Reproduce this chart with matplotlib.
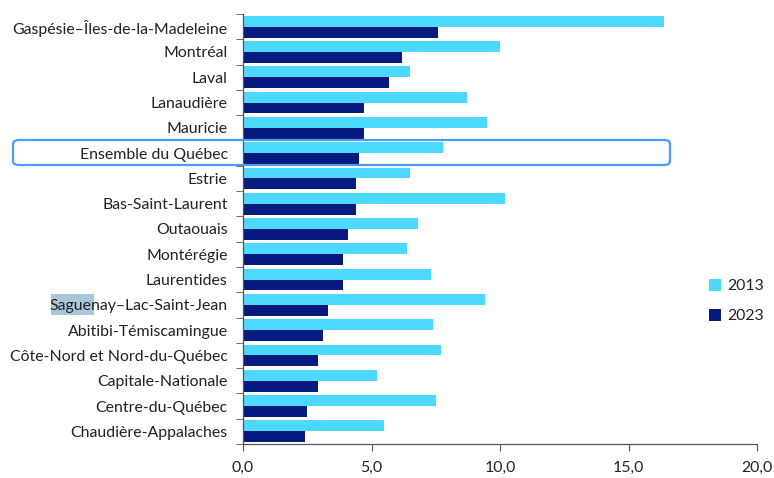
import matplotlib
matplotlib.use("Agg")
import matplotlib.pyplot as plt
from matplotlib.patches import FancyBboxPatch, Rectangle
from matplotlib.ticker import FixedLocator, FuncFormatter
import numpy as np

categories = ["Gaspésie–Îles-de-la-Madeleine", "Montréal", "Laval", "Lanaudière", "Mauricie",
              "Ensemble du Québec", "Estrie", "Bas-Saint-Laurent", "Outaouais", "Montérégie",
              "Laurentides", "Saguenay–Lac-Saint-Jean", "Abitibi-Témiscamingue",
              "Côte-Nord et Nord-du-Québec", "Capitale-Nationale", "Centre-du-Québec",
              "Chaudière-Appalaches"]
values_2013 = [16.4, 10.0, 6.5, 8.7, 9.5, 7.8, 6.5, 10.2, 6.8, 6.4, 7.3, 9.4, 7.4, 7.7, 5.2, 7.5, 5.5]
values_2023 = [7.6, 6.2, 5.7, 4.7, 4.7, 4.5, 4.4, 4.4, 4.1, 3.9, 3.9, 3.3, 3.1, 2.9, 2.9, 2.5, 2.4]
series_labels = ["2013", "2023"]
x_ticks = [0, 5, 10, 15, 20]

plt.rcParams['font.family'] = ['Lato', 'DejaVu Sans']
text_color = "#222222"
c13 = "#4DD8FF"
c23 = "#061A80"
fs = 11.4

W, H = 774, 478
fig = plt.figure(figsize=(W/100, H/100), dpi=100)
ax = fig.add_axes([243/W, 1-444/H, (757-243)/W, (444-14)/H])

y = np.arange(len(categories))
h = 0.43
ax.barh(y - h/2, values_2013, height=h, color=c13, label=series_labels[0])
ax.barh(y + h/2, values_2023, height=h, color=c23, label=series_labels[1])

ax.set_ylim(len(categories) - 0.5, -0.5)
ax.set_xlim(0, 20)
ax.set_yticks(y)
ax.set_yticklabels(categories, fontsize=fs, color=text_color)
ax.yaxis.set_minor_locator(FixedLocator(np.arange(-0.5, len(categories), 1.0)))
ax.tick_params(axis='y', which='major', length=0, pad=11)
ax.tick_params(axis='y', which='minor', length=5, color="#555555", direction='out')
ax.set_xticks(x_ticks)
ax.xaxis.set_major_formatter(FuncFormatter(lambda v, p: f"{v:.1f}".replace(".", ",")))
ax.tick_params(axis='x', length=5, color="#555555", labelsize=fs, labelcolor=text_color, pad=7)
for s in ["top", "right"]:
    ax.spines[s].set_visible(False)
for s in ["left", "bottom"]:
    ax.spines[s].set_color("#555555")
    ax.spines[s].set_linewidth(0.9)

leg = fig.legend(loc="upper left", bbox_to_anchor=(695/W, 1-265/H), frameon=False,
                 fontsize=fs, handlelength=0.72, handleheight=0.72, labelspacing=1.0,
                 handletextpad=0.4)
for t in leg.get_texts():
    t.set_color(text_color)

# highlight box around "Ensemble du Québec"
box = FancyBboxPatch((13/W, 1-165/H), (670-13)/W, (165-140)/H,
                     boxstyle="round,pad=0,rounding_size=0.008",
                     transform=fig.transFigure, fill=False, edgecolor="#4A9BF5",
                     linewidth=1.6, zorder=10)
fig.patches.append(box)

# selection highlight over "Sague"
sel = Rectangle((51/W, 1-315/H), (94-51)/W, (315-294)/H, transform=fig.transFigure,
                facecolor="#A9C7DA", edgecolor="none", zorder=-1)
fig.patches.append(sel)

fig.savefig("out.png", dpi=100)
